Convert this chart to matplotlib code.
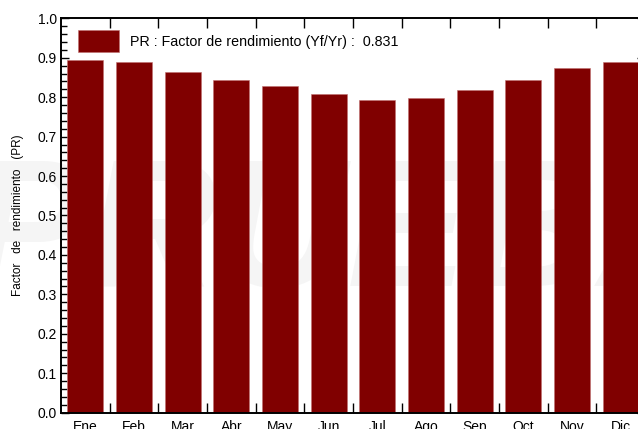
import matplotlib
matplotlib.use("Agg")
import matplotlib.pyplot as plt
from matplotlib.ticker import FixedLocator, MultipleLocator
import numpy as np

months = ["Ene", "Feb", "Mar", "Abr", "May", "Jun",
          "Jul", "Ago", "Sep", "Oct", "Nov", "Dic"]
pr_values = [0.895, 0.890, 0.865, 0.844, 0.829, 0.809,
             0.794, 0.799, 0.819, 0.844, 0.875, 0.890]
pr_label = "PR : Factor de rendimiento (Yf/Yr) :  0.831"

plt.rcParams["font.family"] = ["Liberation Sans", "DejaVu Sans"]

W, H = 638, 429
fig = plt.figure(figsize=(W / 100, H / 100), dpi=100)
ax = fig.add_axes([61 / W, (H - 412.7) / H, 584 / W, 394.4 / H])

x = np.arange(len(months))

# faint watermark behind the bars
ax.text(5.4, 0.44, "PRUEBA", fontsize=130, fontweight="bold", style="italic",
        color="#f5f5f5", ha="center", va="center", zorder=0)

ax.bar(x, pr_values, width=0.74, color="#800000", edgecolor="#c07070",
       linewidth=0.4, label=pr_label, zorder=2)

ax.set_xlim(-0.5, 11.5)
ax.set_ylim(0, 1.0)

# month boundaries as ticks, labels at centres
ax.xaxis.set_major_locator(FixedLocator(np.arange(0.5, 11.0, 1.0)))
ax.xaxis.set_minor_locator(FixedLocator(x))
ax.set_xticklabels([], minor=False)
ax.set_xticklabels(months, minor=True)
ax.tick_params(axis="x", which="major", direction="in", length=7.5, width=1.0,
               top=True, bottom=True)
ax.tick_params(axis="x", which="minor", length=0, pad=5, labelsize=10)

ax.yaxis.set_major_locator(MultipleLocator(0.1))
ax.yaxis.set_minor_locator(MultipleLocator(0.02))
ax.tick_params(axis="y", which="major", direction="in", length=6, width=1.0,
               left=True, right=True, labelsize=10, pad=3)
ax.tick_params(axis="y", which="minor", direction="in", length=4, width=1.0,
               left=True, right=True)
ax.yaxis.set_major_formatter(plt.FuncFormatter(lambda v, p: f"{v:.1f}"))

for s in ax.spines.values():
    s.set_linewidth(1.4)

ax.set_ylabel("Factor   de   rendimiento   (PR)", fontsize=8.5)
ax.yaxis.set_label_coords(-37 / 584, 0.5)

ax.legend(loc="upper left", frameon=False, fontsize=10.3,
          handlelength=2.9, handleheight=2.0, handletextpad=0.75,
          bbox_to_anchor=(11 / 584, 1 - 6 / 394.4), borderaxespad=0)

fig.savefig("out.png", dpi=100)
